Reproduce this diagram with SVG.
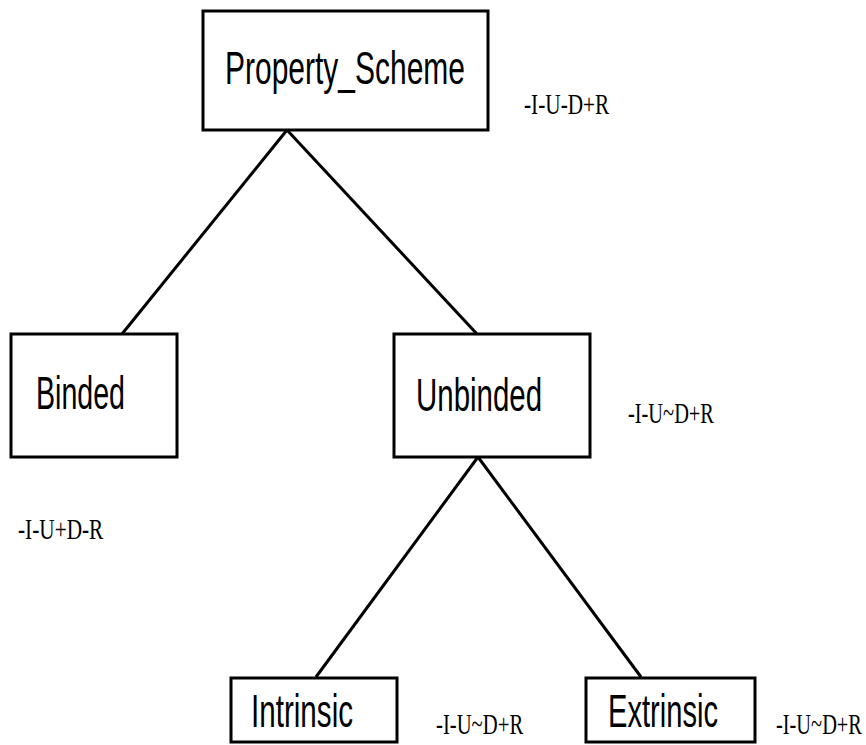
<svg xmlns="http://www.w3.org/2000/svg" width="866" height="745" viewBox="0 0 866 745">
<style>
.box{fill:#fff;stroke:#000;stroke-width:3}
.lbl{font-family:"Liberation Sans",Arial,sans-serif;font-size:46px;fill:#000}
.note{font-family:"Liberation Serif","Times New Roman",serif;font-size:30px;fill:#000}
.edge{stroke:#000;stroke-width:3;fill:none}
</style>
<rect width="866" height="745" fill="#fff"/>
<g id="connectors">
<line class="edge" x1="287" y1="130" x2="122" y2="334"/>
<line class="edge" x1="287" y1="130" x2="477" y2="334"/>
<line class="edge" x1="478" y1="457" x2="316" y2="677"/>
<line class="edge" x1="478" y1="457" x2="641" y2="677"/>
</g>
<g id="property_scheme">
<rect class="box" x="203" y="11" width="285" height="119"/>
<text class="lbl" transform="translate(225,84) scale(0.652,1)">Property_Scheme</text>
<text class="note" transform="translate(524,114) scale(0.71,1)">-I-U-D+R</text>
</g>
<g id="binded">
<rect class="box" x="11" y="334" width="166" height="123"/>
<text class="lbl" transform="translate(36,409) scale(0.621,1)">Binded</text>
<text class="note" transform="translate(18,539) scale(0.71,1)">-I-U+D-R</text>
</g>
<g id="unbinded">
<rect class="box" x="394" y="334" width="196" height="123"/>
<text class="lbl" transform="translate(416,411) scale(0.64,1)">Unbinded</text>
<text class="note" transform="translate(628,423) scale(0.68,1)">-I-U~D+R</text>
</g>
<g id="intrinsic">
<rect class="box" x="231" y="678" width="166" height="64"/>
<text class="lbl" transform="translate(251,727) scale(0.644,1)">Intrinsic</text>
<text class="note" transform="translate(436,734) scale(0.69,1)">-I-U~D+R</text>
</g>
<g id="extrinsic">
<rect class="box" x="586" y="678" width="169" height="64"/>
<text class="lbl" transform="translate(608,727) scale(0.633,1)">Extrinsic</text>
<text class="note" transform="translate(776,734) scale(0.68,1)">-I-U~D+R</text>
</g>
</svg>
